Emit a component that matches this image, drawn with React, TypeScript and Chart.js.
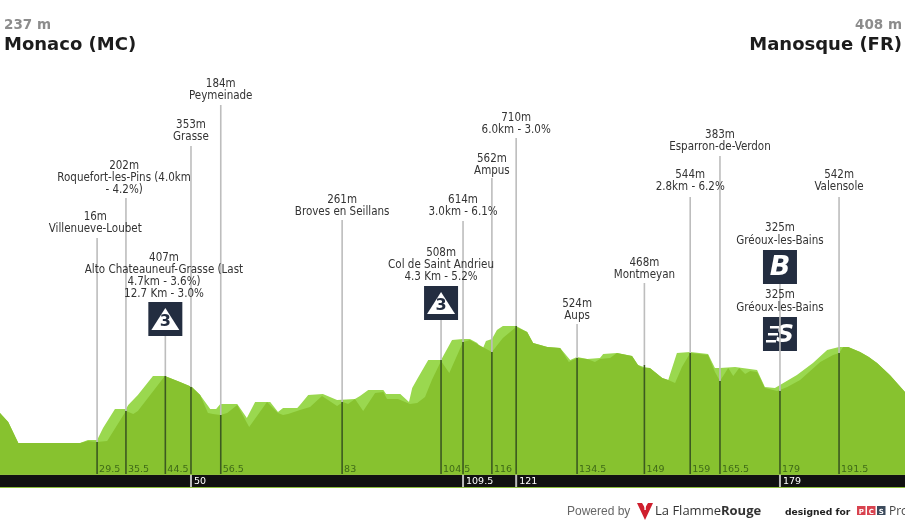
import React, { useEffect, useRef } from "react";
import { Chart, registerables } from "chart.js";

Chart.register(...registerables);

const startName = "Monaco (MC)";
const startAlt = "237 m";
const finishName = "Manosque (FR)";
const finishAlt = "408 m";

// km, metres (chart value) for the upper, light profile
const lightKm = [8.3,10.1,12.3,17.7,25.8,27.5,29.5,30.8,33.4,35.8,36.3,38.4,41.7,44.3,47.6,50.2,52,54.2,55.5,56.4,60.1,62.2,64,67.3,69,70.1,73.2,73.8,75.6,78.8,81.9,85.8,86.9,88.7,92,92.6,95.7,97.6,98.3,99.4,101.8,104.6,107,109.4,110.9,112.5,113.6,114.4,115.7,116.8,118.1,121,123.4,124.7,127.8,130.6,132.8,134.3,136.5,139.3,140,143,146.3,147.6,148.9,150.2,152.9,154.2,156.1,159,162.9,164.4,165.5,168.8,173.6,175.3,177.5,178.6,182.3,185.8,188.9,191.5,193.5,196.1,198,199.8,202.6,205.9];
const lightAlt = [186,132,6,6,6,24,24,96,210,210,234,294,408,408,372,342,294,210,210,240,240,156,252,252,192,216,216,234,294,300,264,270,288,324,324,300,300,252,336,390,504,504,624,630,630,606,564,618,630,684,708,708,672,606,582,576,504,522,510,516,540,546,528,474,462,456,396,384,546,552,540,456,456,462,444,342,336,354,414,486,564,582,582,552,522,486,414,312];

// km, metres (chart value) for the main, darker profile
const mainKm = [8.3,10.1,12.3,17.7,25.8,27.5,29.5,31.7,35.8,37.4,38.4,44.3,47.6,50.2,52,53.7,54.8,56.4,57.9,60.1,62.7,66.6,69,70.1,71.2,73.8,76,78.6,81.9,83.2,84.3,85.8,87.6,90.2,92,92.8,95.2,97.8,99.4,101.1,102.6,104.6,106.4,109.4,110.9,112.5,115.7,118.1,121,123.4,124.7,127.8,130.6,132.5,134.3,136.5,138.2,139.3,141.5,143,146.3,147.6,148.7,150.2,152.9,154.2,155.7,157.2,159,162.9,164.4,165.5,167.3,168.4,169.7,171,172.1,173.6,175.3,178,180.2,183,187.4,190.2,191.5,192.4,193.5,196.1,198,199.8,202.6,205.9];
const mainAlt = [186,132,6,6,6,18,12,18,198,180,198,408,372,342,294,186,180,174,186,234,102,252,186,174,180,204,222,288,228,252,240,270,198,306,312,270,270,240,246,282,384,498,426,612,624,600,552,636,702,672,606,582,576,492,516,510,492,510,516,546,528,474,456,456,396,384,366,462,546,534,432,378,456,408,456,420,438,432,336,318,342,384,492,534,546,582,582,552,522,486,414,312];

const baseAlt = -180;
const barKmLabels = ["29.5","35.5","44.5","50","56.5","83","104.5","109.5","116","121","134.5","149","159","165.5","179","191.5"];
const markerKm = [29.5,35.8,44.4,50,56.5,83,104.6,109.4,115.7,121,134.3,149,159,165.5,178.6,191.5];
const markerAlt = [12,198,408,342,174,252,504,612,552,708,516,474,546,378,318,546];
const stemTopAlt = [1236,1476,648,1788,2034,1344,744,1338,1596,1836,720,966,1482,1728,960,1482];
// km labels that sit in the black band, and those that are only there
const bandLabels = ["50","109.5","121","179"];
const bandOnlyLabels = ["50","109.5","121"];

const markerText: string[][] = [
  ["16m","Villenueve-Loubet"],
  ["202m","Roquefort-les-Pins (4.0km","- 4.2%)"],
  ["407m","Alto Chateauneuf-Grasse (Last","4.7km - 3.6%)","12.7 Km - 3.0%"],
  ["353m","Grasse"],
  ["184m","Peymeinade"],
  ["261m","Broves en Seillans"],
  ["508m","Col de Saint Andrieu","4.3 Km - 5.2%"],
  ["614m","3.0km - 6.1%"],
  ["562m","Ampus"],
  ["710m","6.0km - 3.0%"],
  ["524m","Aups"],
  ["468m","Montmeyan"],
  ["544m","2.8km - 6.2%"],
  ["383m","Esparron-de-Verdon"],
  [],
  ["542m","Valensole"],
];
// km on which each text block is centred
const textKm = [29.1,35.4,44.1,50,56.5,83,104.6,109.4,115.7,121,134.3,149,159,165.5,178.6,191.5];
// altitude of the last text line's centre for each marker
const textBottomAlt = [1296,1530,906,1848,2094,1398,1008,1398,1644,1890,774,1020,1548,1788,0,1548];

// extra block: sprint / bonus labels at km 179
const extraText: string[][] = [["325m","Gréoux-les-Bains"],["325m","Gréoux-les-Bains"]];
const extraTextAlt = [1224,822];
// badges: [km, top altitude, glyph]
const badgeKm = [44.4,104.6,178.6,178.6];
const badgeTopAlt = [852,948,1164,762];
const badgeGlyph = ["3","3","B","S"];

const BODY = '"DejaVu Sans Condensed", "DejaVu Sans", sans-serif';
const NAVY = "#232d40";

const overlay = {
  id: "overlay",
  beforeDatasetsDraw(chart: any) {
    const { ctx, scales } = chart;
    const x = scales.x, y = scales.y;
    ctx.save();
    // black band
    const top = y.getPixelForValue(baseAlt);
    ctx.fillStyle = "#8dbf3c";
    ctx.fillRect(0, top - 1, 905, 15);
    ctx.fillStyle = "#111111";
    ctx.fillRect(0, top + 1, 905, 12);
    // badges
    badgeKm.forEach((km, i) => {
      const cx = x.getPixelForValue(km), t = y.getPixelForValue(badgeTopAlt[i]);
      const s = 34;
      ctx.fillStyle = NAVY;
      ctx.fillRect(cx - s / 2, t, s, s);
      ctx.fillStyle = "#fff";
      ctx.textAlign = "center";
      ctx.textBaseline = "middle";
      const g = badgeGlyph[i];
      if (g === "3") {
        ctx.beginPath();
        ctx.moveTo(cx, t + 6);
        ctx.lineTo(cx + 14, t + 28);
        ctx.lineTo(cx - 14, t + 28);
        ctx.closePath();
        ctx.fill();
        ctx.fillStyle = NAVY;
        ctx.font = 'bold 16px "DejaVu Sans", sans-serif';
        ctx.fillText(g, cx, t + 20);
      } else if (g === "B") {
        ctx.font = 'bold italic 27px "DejaVu Sans", sans-serif';
        ctx.fillText(g, cx, t + 18);
      } else {
        ctx.font = 'bold italic 25px "DejaVu Sans", sans-serif';
        ctx.fillText(g, cx + 5, t + 18);
        ctx.fillRect(cx - 10, t + 9, 9, 2.5);
        ctx.fillRect(cx - 12, t + 16, 10, 2.5);
        ctx.fillRect(cx - 14, t + 23, 10, 2.5);
      }
    });
    ctx.restore();
  },
  afterDatasetsDraw(chart: any) {
    const { ctx, scales } = chart;
    const x = scales.x, y = scales.y;
    ctx.save();
    ctx.textBaseline = "middle";
    // texts above stems
    ctx.fillStyle = "#333333";
    ctx.textAlign = "center";
    ctx.font = `11.5px ${BODY}`;
    markerText.forEach((lines, i) => {
      const cx = x.getPixelForValue(textKm[i]);
      const last = y.getPixelForValue(textBottomAlt[i]) + 1;
      lines.forEach((t, j) => {
        ctx.fillText(t, cx, last - (lines.length - 1 - j) * 12);
      });
    });
    extraText.forEach((lines, i) => {
      const cx = x.getPixelForValue(markerKm[14]);
      const last = y.getPixelForValue(extraTextAlt[i]) + 1;
      lines.forEach((t, j) => {
        ctx.fillText(t, cx, last - (lines.length - 1 - j) * 12.5);
      });
    });
    // km labels
    ctx.textAlign = "left";
    const labelY = y.getPixelForValue(baseAlt) - 4.5;
    ctx.font = '9.5px "DejaVu Sans", sans-serif';
    ctx.fillStyle = "#3f6a18";
    barKmLabels.forEach((t, i) => {
      if (bandOnlyLabels.includes(t)) return;
      ctx.fillText(t, x.getPixelForValue(markerKm[i]) + 2, labelY);
    });
    // band labels
    const bandTop = y.getPixelForValue(baseAlt) + 1;
    ctx.font = '9.5px "DejaVu Sans", sans-serif';
    barKmLabels.forEach((t, i) => {
      if (!bandLabels.includes(t)) return;
      const px = x.getPixelForValue(markerKm[i]);
      ctx.fillStyle = "#bbbbbb";
      ctx.fillRect(px - 1, bandTop, 2, 12);
      ctx.fillStyle = "#ffffff";
      ctx.fillText(t, px + 3, bandTop + 6.5);
    });

    // header
    ctx.textBaseline = "alphabetic";
    ctx.font = 'bold 13.5px "DejaVu Sans", sans-serif';
    ctx.fillStyle = "#8c8c8c";
    ctx.textAlign = "left";
    ctx.fillText(startAlt, 4, 29);
    ctx.textAlign = "right";
    ctx.fillText(finishAlt, 902, 29);
    ctx.font = 'bold 18px "DejaVu Sans", sans-serif';
    ctx.fillStyle = "#1c1c1c";
    ctx.textAlign = "left";
    ctx.fillText(startName, 4, 50);
    ctx.textAlign = "right";
    ctx.fillText(finishName, 902, 50);

    // footer
    ctx.textAlign = "left";
    ctx.font = '12px "Liberation Sans", sans-serif';
    ctx.fillStyle = "#666666";
    ctx.fillText("Powered by", 567, 515);
    ctx.fillStyle = "#cf1f2e";
    ctx.beginPath();
    ctx.moveTo(637, 503);
    ctx.lineTo(642, 503);
    ctx.lineTo(645, 508);
    ctx.lineTo(648, 503);
    ctx.lineTo(653, 503);
    ctx.lineTo(645, 520);
    ctx.closePath();
    ctx.fill();
    ctx.fillStyle = "#ffffff";
    ctx.fillRect(644.4, 504, 1.4, 6);
    ctx.font = '13px "Open Sans", sans-serif';
    ctx.fillStyle = "#333333";
    const lf = "La Flamme";
    ctx.fillText(lf, 655, 515);
    const w = ctx.measureText(lf).width;
    ctx.font = 'bold 13px "Open Sans", sans-serif';
    ctx.fillText("Rouge", 655 + w, 515);
    ctx.font = 'bold 9.2px "DejaVu Sans", sans-serif';
    ctx.fillStyle = "#222222";
    ctx.fillText("designed for", 785, 515);
    [["P","#d8434f"],["C","#d8434f"],["S","#3c4a5c"]].forEach(([c, col], i) => {
      const bx = 857 + i * 10;
      ctx.fillStyle = col;
      ctx.fillRect(bx, 506, 8.5, 9);
      ctx.fillStyle = "#fff";
      ctx.font = 'bold 7px "DejaVu Sans", sans-serif';
      ctx.textAlign = "center";
      ctx.fillText(c, bx + 4.2, 513.5);
      ctx.textAlign = "left";
    });
    ctx.font = '12px "Open Sans", sans-serif';
    ctx.fillStyle = "#444444";
    ctx.fillText("Pro", 889, 515);
    ctx.restore();
  },
};

function pairs(xs: number[], ys: number[]) {
  return xs.map((k, i) => ({ x: k, y: ys[i] }));
}
function segments(lo: number[], hi: number[]) {
  const out: any[] = [];
  markerKm.forEach((k, i) => {
    out.push({ x: k, y: lo[i] }, { x: k, y: hi[i] }, { x: k, y: null });
  });
  return out;
}

export default function App() {
  const ref = useRef<HTMLCanvasElement>(null);
  useEffect(() => {
    const chart = new Chart(ref.current!, {
      type: "line",
      data: {
        datasets: [
          {
            label: "gray stems",
            data: segments(markerAlt, stemTopAlt),
            borderColor: "#bdbdbd",
            borderWidth: 1.6,
            pointRadius: 0,
            spanGaps: false,
            order: 2,
          },
          {
            label: "light",
            data: pairs(lightKm, lightAlt),
            borderWidth: 0,
            backgroundColor: "#9ad84f",
            fill: { value: baseAlt },
            pointRadius: 0,
            tension: 0,
            order: 3,
          },
          {
            label: "main",
            data: pairs(mainKm, mainAlt),
            borderWidth: 0,
            backgroundColor: "#87c22f",
            fill: { value: baseAlt },
            pointRadius: 0,
            tension: 0,
            order: 2,
          },
          {
            label: "dark stems",
            data: segments(markerAlt.map(() => baseAlt), markerAlt),
            borderColor: "#3c5a20",
            borderWidth: 1.6,
            pointRadius: 0,
            spanGaps: false,
            order: 1,
          },
        ],
      },
      options: {
        responsive: false,
        animation: false,
        parsing: false,
        normalized: true,
        layout: { padding: 0 },
        plugins: { legend: { display: false }, tooltip: { enabled: false } },
        scales: {
          x: { type: "linear", min: 8.3, max: 205.9, display: false },
          y: { type: "linear", min: -486, max: 2664, display: false },
        },
      } as any,
      plugins: [overlay],
    });
    return () => chart.destroy();
  }, []);
  return (
    <div style={{ position: "absolute", left: 0, top: 0, width: 905, height: 525, background: "#fff" }}>
      <canvas ref={ref} width={905} height={525} style={{ display: "block" }} />
    </div>
  );
}
